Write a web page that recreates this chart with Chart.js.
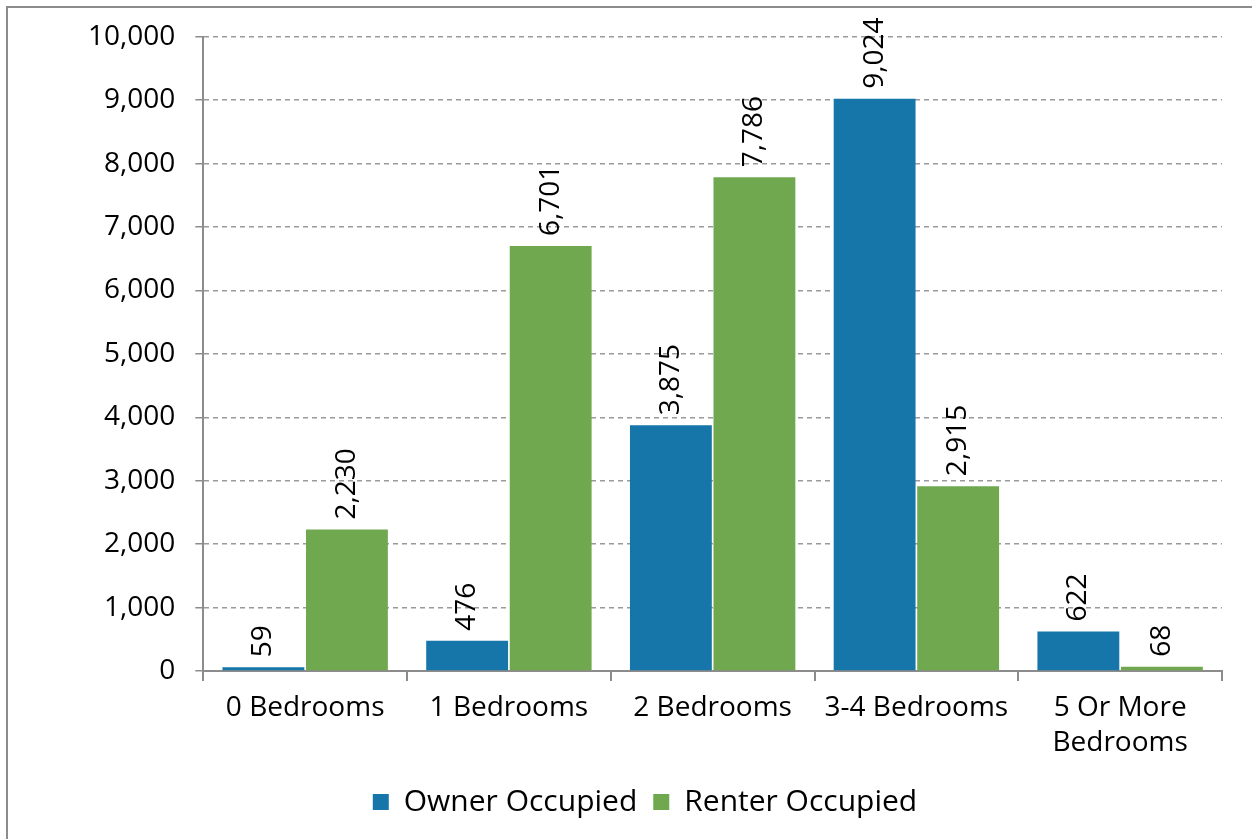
<!DOCTYPE html>
<html lang="en">
<head>
    <meta charset="UTF-8">
    <title>Bedrooms by tenure</title>
    <script src="https://cdn.jsdelivr.net/npm/chart.js"></script>
    <style>
        html, body { margin: 0; padding: 0; background: #fff; }
        #marco {
            position: absolute; left: 6px; top: 6px;
            width: 1300px; height: 900px;
            border: 2px solid #8c8c8c;
        }
        #wrap { position: absolute; left: 0; top: 0; width: 1252px; height: 839px; }
    </style>
</head>
<body>
    <div id="marco"></div>
    <div id="wrap"><canvas id="grafica"></canvas></div>

    <script>
        // datos
        var categorias = ['0 Bedrooms', '1 Bedrooms', '2 Bedrooms', '3-4 Bedrooms', ['5 Or More', 'Bedrooms']];
        var propietarios = [59, 476, 3875, 9024, 622];
        var inquilinos = [2230, 6701, 7786, 2915, 68];
        var ticksY = [0, 1000, 2000, 3000, 4000, 5000, 6000, 7000, 8000, 9000, 10000];

        var fuente = "'Open Sans', 'DejaVu Sans', sans-serif";

        // etiquetas giradas encima de cada barra
        var etiquetasBarras = {
            id: 'etiquetasBarras',
            afterDatasetsDraw: function (chart) {
                var ctx = chart.ctx;
                chart.data.datasets.forEach(function (ds, i) {
                    var meta = chart.getDatasetMeta(i);
                    meta.data.forEach(function (barra, j) {
                        ctx.save();
                        ctx.translate(barra.x, barra.y - 10);
                        ctx.rotate(-Math.PI / 2);
                        ctx.font = '28px ' + fuente;
                        ctx.fillStyle = '#000';
                        ctx.textAlign = 'left';
                        ctx.textBaseline = 'middle';
                        ctx.fillText(ds.data[j].toLocaleString('en-US'), 0, 0);
                        ctx.restore();
                    });
                });
            }
        };

        var ctx = document.getElementById('grafica').getContext('2d');
        var grafica = new Chart(ctx, {
            type: 'bar',
            data: {
                labels: categorias,
                datasets: [{
                    label: 'Owner Occupied',
                    data: propietarios,
                    backgroundColor: '#1675A9',
                    categoryPercentage: 0.82,
                    barPercentage: 0.98
                }, {
                    label: 'Renter Occupied',
                    data: inquilinos,
                    backgroundColor: '#70A84F',
                    categoryPercentage: 0.82,
                    barPercentage: 0.98
                }]
            },
            options: {
                responsive: true,
                maintainAspectRatio: false,
                animation: false,
                layout: { padding: { left: 68, right: 30, top: 32, bottom: 12 } },
                plugins: {
                    tooltip: { enabled: false },
                    legend: {
                        position: 'bottom',
                        labels: {
                            font: { family: fuente, size: 30 },
                            color: '#000',
                            boxWidth: 16,
                            boxHeight: 16,
                            padding: 16
                        }
                    }
                },
                scales: {
                    x: {
                        grid: {
                            drawOnChartArea: false,
                            drawTicks: true,
                            tickLength: 10,
                            tickColor: '#8c8c8c',
                            lineWidth: 2
                        },
                        border: { color: '#8c8c8c', width: 2 },
                        ticks: {
                            font: { family: fuente, size: 28, lineHeight: 1.25 },
                            color: '#000',
                            padding: 10,
                            maxRotation: 0,
                            autoSkip: false
                        }
                    },
                    y: {
                        min: 0,
                        max: 10000,
                        afterBuildTicks: function (eje) {
                            eje.ticks = ticksY.map(function (v) { return { value: v }; });
                        },
                        grid: {
                            color: '#9a9a9a',
                            lineWidth: 1.5,
                            tickLength: 8,
                            tickColor: '#8c8c8c'
                        },
                        border: { color: '#8c8c8c', width: 2, dash: [5, 4] },
                        ticks: {
                            font: { family: fuente, size: 28 },
                            color: '#000',
                            padding: 20,
                            callback: function (v) { return v.toLocaleString('en-US'); }
                        }
                    }
                }
            },
            plugins: [etiquetasBarras]
        });
    </script>
</body>
</html>
